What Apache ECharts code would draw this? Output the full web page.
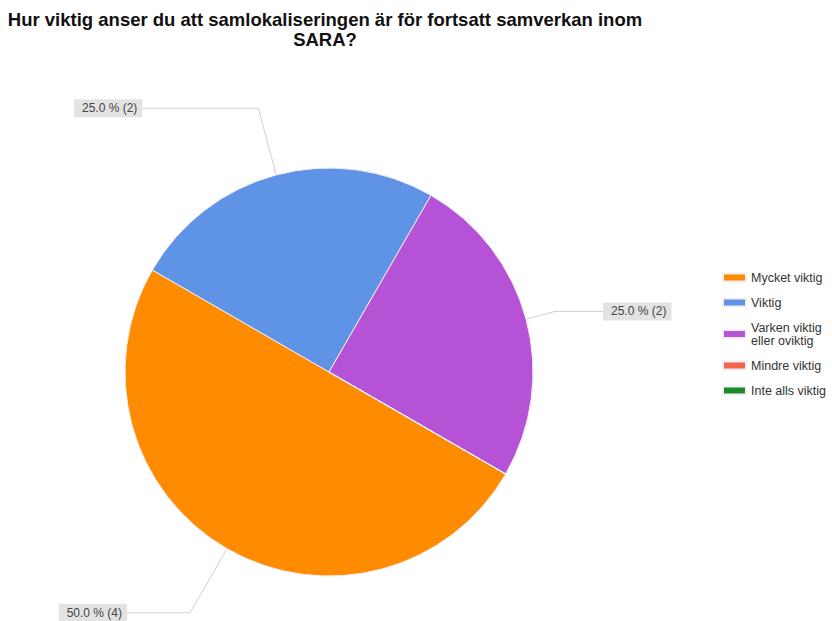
<!DOCTYPE html>
<html>
<head>
<meta charset="utf-8">
<script src="https://cdn.jsdelivr.net/npm/echarts@6/dist/echarts.min.js"></script>
<style>
  html, body { margin: 0; padding: 0; background: #ffffff; }
  #chart { width: 832px; height: 621px; }
</style>
</head>
<body>
<div id="chart"></div>
<script>
// Survey answers: how important is co-location for continued SARA collaboration
const titleLines = ['Hur viktig anser du att samlokaliseringen är för fortsatt samverkan inom', 'SARA?'];
const categories = ['Mycket viktig', 'Viktig', 'Varken viktig\neller oviktig', 'Mindre viktig', 'Inte alls viktig'];
const counts = [4, 2, 2, 0, 0];
const colors = ['#ff8b00', '#5f93e6', '#b652d6', '#f4644b', '#1e8a2e'];

// Leader line segment lengths per slice (radial part, horizontal part)
const leaderLengths = [[74, 63], [69, 116], [30, 48], [20, 20], [20, 20]];

const font = '"Liberation Sans", Arial, sans-serif';

const pieData = categories.map((name, i) => ({
  name: name,
  value: counts[i],
  itemStyle: { color: colors[i] },
  labelLine: { length: leaderLengths[i][0], length2: leaderLengths[i][1] }
}));

const chart = echarts.init(document.getElementById('chart'), null, { renderer: 'svg' });

chart.setOption({
  backgroundColor: '#ffffff',
  animation: false,
  graphic: [{
    type: 'text',
    x: 325,
    y: 9,
    style: {
      text: titleLines.join('\n'),
      textAlign: 'center',
      fontFamily: font,
      fontWeight: 'bold',
      fontSize: 18.5,
      lineHeight: 20,
      fill: '#111111'
    }
  }],
  legend: {
    orient: 'vertical',
    left: 722,
    top: 271,
    padding: 0,
    itemWidth: 23,
    itemHeight: 8,
    itemGap: 12,
    icon: 'rect',
    selectedMode: false,
    data: categories,
    textStyle: {
      fontFamily: font,
      fontSize: 12.5,
      lineHeight: 13,
      color: '#333333'
    }
  },
  series: [{
    type: 'pie',
    center: [329, 372],
    radius: 204,
    startAngle: -30,
    clockwise: true,
    minShowLabelAngle: 1,
    avoidLabelOverlap: false,
    data: pieData,
    itemStyle: { borderColor: '#f4eef6', borderWidth: 1 },
    emphasis: { disabled: true },
    label: {
      show: true,
      position: 'outside',
      distanceToLabelLine: 0,
      formatter: p => p.percent.toFixed(1) + ' % (' + p.value + ')',
      fontFamily: font,
      fontSize: 12,
      color: '#444444',
      backgroundColor: '#e3e3e3',
      padding: [3, 5, 3, 8]
    },
    labelLine: {
      show: true,
      lineStyle: { color: '#d0d0d0', width: 1 }
    }
  }]
});
</script>
</body>
</html>
